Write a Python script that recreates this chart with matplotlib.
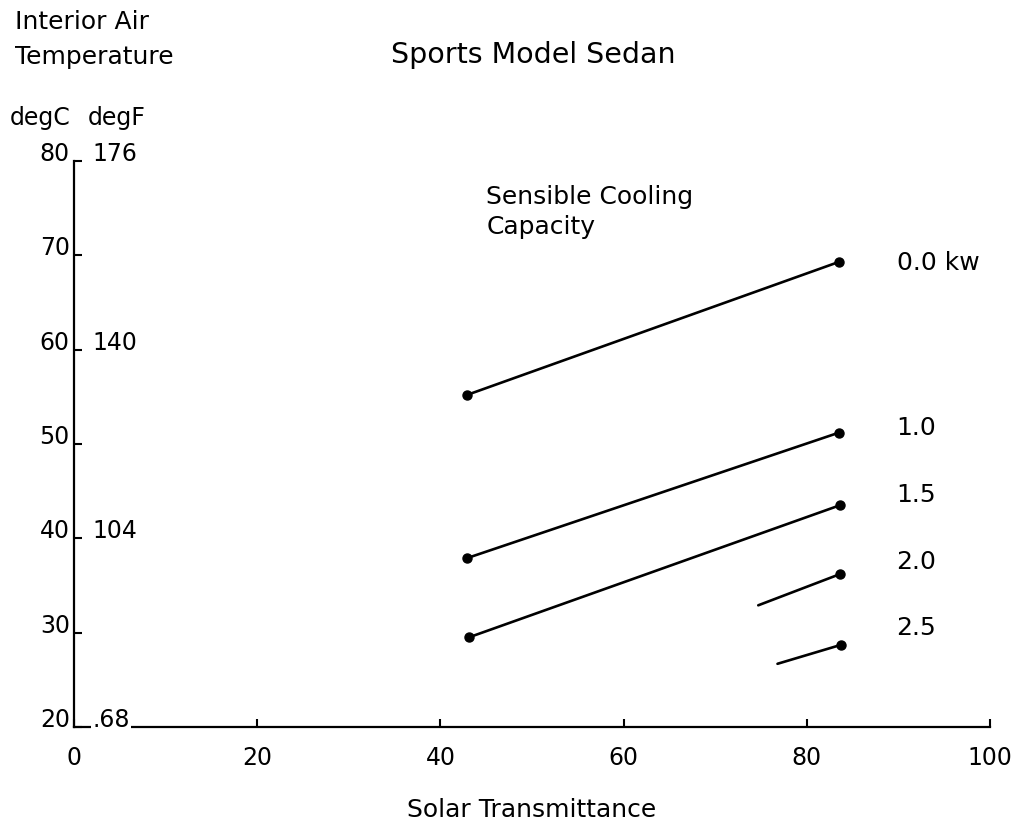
import matplotlib
matplotlib.use('Agg')
import matplotlib.pyplot as plt

matplotlib.rcParams.update({'font.family': 'DejaVu Sans', 'font.size': 17})

# cooling capacity lines (start / end of each segment)
capacity = ['0.0 kw', '1.0', '1.5', '2.0', '2.5']
trans_start = [42.9, 42.9, 43.1, 74.7, 76.8]
trans_end = [83.5, 83.5, 83.6, 83.6, 83.7]
temp_start = [55.2, 37.9, 29.5, 32.9, 26.7]
temp_end = [69.3, 51.2, 43.5, 36.2, 28.7]
start_dot = [True, True, True, False, False]
label_y = [69.2, 51.7, 44.6, 37.5, 30.5]

degc_ticks = [20, 30, 40, 50, 60, 70, 80]
degf_at = [80, 60, 40, 20]
degf_labels = ['176', '140', '104', '.68']
x_ticks = [0, 20, 40, 60, 80, 100]

fig = plt.figure(figsize=(10.2, 8.21), dpi=100)
ax = fig.add_axes([74/1020, 1-727/821, 916/1020, 566/821])

for i in range(len(capacity)):
    ax.plot([trans_start[i], trans_end[i]], [temp_start[i], temp_end[i]],
            color='black', lw=1.9, solid_capstyle='round')
    ax.plot([trans_end[i]], [temp_end[i]], 'o', color='black', ms=6.5)
    if start_dot[i]:
        ax.plot([trans_start[i]], [temp_start[i]], 'o', color='black', ms=6.5)
    ax.text(89.8, label_y[i], capacity[i], ha='left', va='center', fontsize=18)

ax.text(45, 74.6, 'Sensible Cooling\nCapacity', ha='left', va='center',
        fontsize=18, linespacing=1.3)

ax.set_xlim(0, 100)
ax.set_ylim(20, 80)
ax.set_xticks(x_ticks)
ax.set_yticks(degc_ticks)
for s in ['top', 'right']:
    ax.spines[s].set_visible(False)
for s in ['left', 'bottom']:
    ax.spines[s].set_linewidth(1.6)
ax.tick_params(axis='both', direction='in', length=6, width=1.5)
ax.tick_params(axis='x', pad=14, labelsize=17)
ax.tick_params(axis='y', pad=3, labelsize=17)
for t in ax.get_yticklabels():
    t.set_va('baseline')

for v, lab in zip(degf_at, degf_labels):
    ax.text(2.0, v, lab, ha='left', va='baseline', fontsize=17, clip_on=False,
            bbox=dict(facecolor='white', edgecolor='none', pad=1) if v == 20 else None)

ax.set_xlabel('Solar Transmittance', fontsize=18, labelpad=20)

fig.text(15/1020, 1-22/821, 'Interior Air', ha='left', va='center', fontsize=18)
fig.text(15/1020, 1-57/821, 'Temperature', ha='left', va='center', fontsize=18)
fig.text(10/1020, 1-118/821, 'degC', ha='left', va='center', fontsize=17)
fig.text(88/1020, 1-118/821, 'degF', ha='left', va='center', fontsize=17)
fig.text(533/1020, 1-55/821, 'Sports Model Sedan', ha='center', va='center', fontsize=20.5)

fig.savefig('out.png', dpi=100)
